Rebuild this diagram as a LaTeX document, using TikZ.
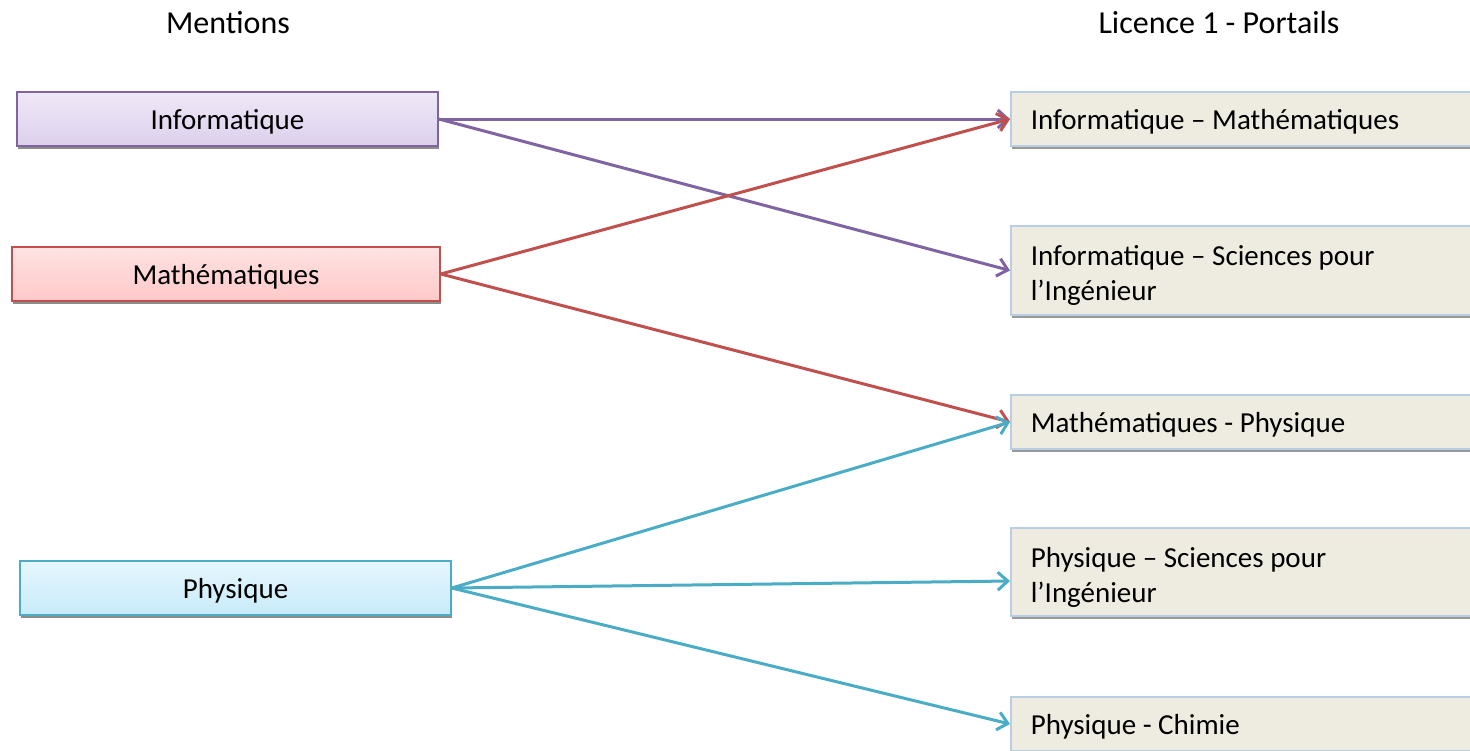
\documentclass[tikz,border=0pt]{standalone}
\usepackage{fontspec}
\setmainfont{Carlito}
\usetikzlibrary{arrows.meta,shadows}
\definecolor{violet}{HTML}{8064A2}
\definecolor{rouge}{HTML}{C0504D}
\definecolor{turquoise}{HTML}{4BACC6}
\definecolor{beige}{HTML}{EEECE1}
\definecolor{bordbleu}{HTML}{B9CDE5}
\definecolor{infohaut}{HTML}{EFE8F7}
\definecolor{infobas}{HTML}{DCD0EC}
\definecolor{mathhaut}{HTML}{FFE3E3}
\definecolor{mathbas}{HTML}{FFC8C8}
\definecolor{physhaut}{HTML}{E6F6FD}
\definecolor{physbas}{HTML}{C8EBFA}

\begin{document}
\begin{tikzpicture}[x=0.5pt,y=-0.5pt,font=\fontsize{14.5pt}{17.5pt}\selectfont]
\tikzstyle{titre}=[font=\fontsize{16pt}{19pt}\selectfont]
\tikzstyle{mention}=[rectangle, draw, line width=0.8pt, minimum height=27pt, text depth=-1.2pt, drop shadow={shadow xshift=0.5pt, shadow yshift=-1.5pt, fill=black!45, opacity=1}]
\tikzstyle{portail}=[rectangle, draw=bordbleu, line width=0.8pt, fill=beige, anchor=west, text width=220pt, inner xsep=10pt, align=flush left, minimum height=27pt, text depth=-1.2pt, drop shadow={shadow xshift=0.5pt, shadow yshift=-1.5pt, fill=black!40, opacity=1}]
\tikzstyle{deuxlignes}=[minimum height=44.5pt, text depth=14.8pt]
\tikzstyle{fleche}=[line width=1.5pt, -{Straight Barb[length=5pt,width=9pt]}]
\useasboundingbox (0,0) rectangle (1470,750);
% titres
\node[titre] (titreG) at (228,23) {Mentions};
\node[titre] (titreD) at (1219,23) {Licence 1 - Portails};
% mentions
\node[mention, draw=violet, top color=infohaut, bottom color=infobas, minimum width=210.5pt] (info) at (227.5,119) {Informatique};
\node[mention, draw=rouge, top color=mathhaut, bottom color=mathbas, minimum width=214pt] (math) at (226,274) {Mathématiques};
\node[mention, draw=turquoise, top color=physhaut, bottom color=physbas, minimum width=215.5pt] (phys) at (235.5,588) {Physique};
% portails
\node[portail] (infomath) at (1010,119) {Informatique – Mathématiques};
\node[portail, deuxlignes] (infospi) at (1010,270.5) {Informatique – Sciences pour\\l’Ingénieur};
\node[portail] (mathphys) at (1010,422) {Mathématiques - Physique};
\node[portail, deuxlignes, minimum height=44pt] (physspi) at (1010,572) {Physique – Sciences pour\\l’Ingénieur};
\node[portail] (physchim) at (1010,724) {Physique - Chimie};
% fleches
\draw[fleche, violet] (info.east) -- (infomath.west);
\draw[fleche, violet] (info.east) -- (infospi.west);
\draw[fleche, rouge] (math.east) -- (infomath.west);
\draw[fleche, rouge] (math.east) -- (mathphys.west);
\draw[fleche, turquoise] (phys.east) -- (mathphys.west);
\draw[fleche, turquoise] (phys.east) -- ([yshift=-4.5pt]physspi.west);
\draw[fleche, turquoise] (phys.east) -- (physchim.west);
\end{tikzpicture}
\end{document}
